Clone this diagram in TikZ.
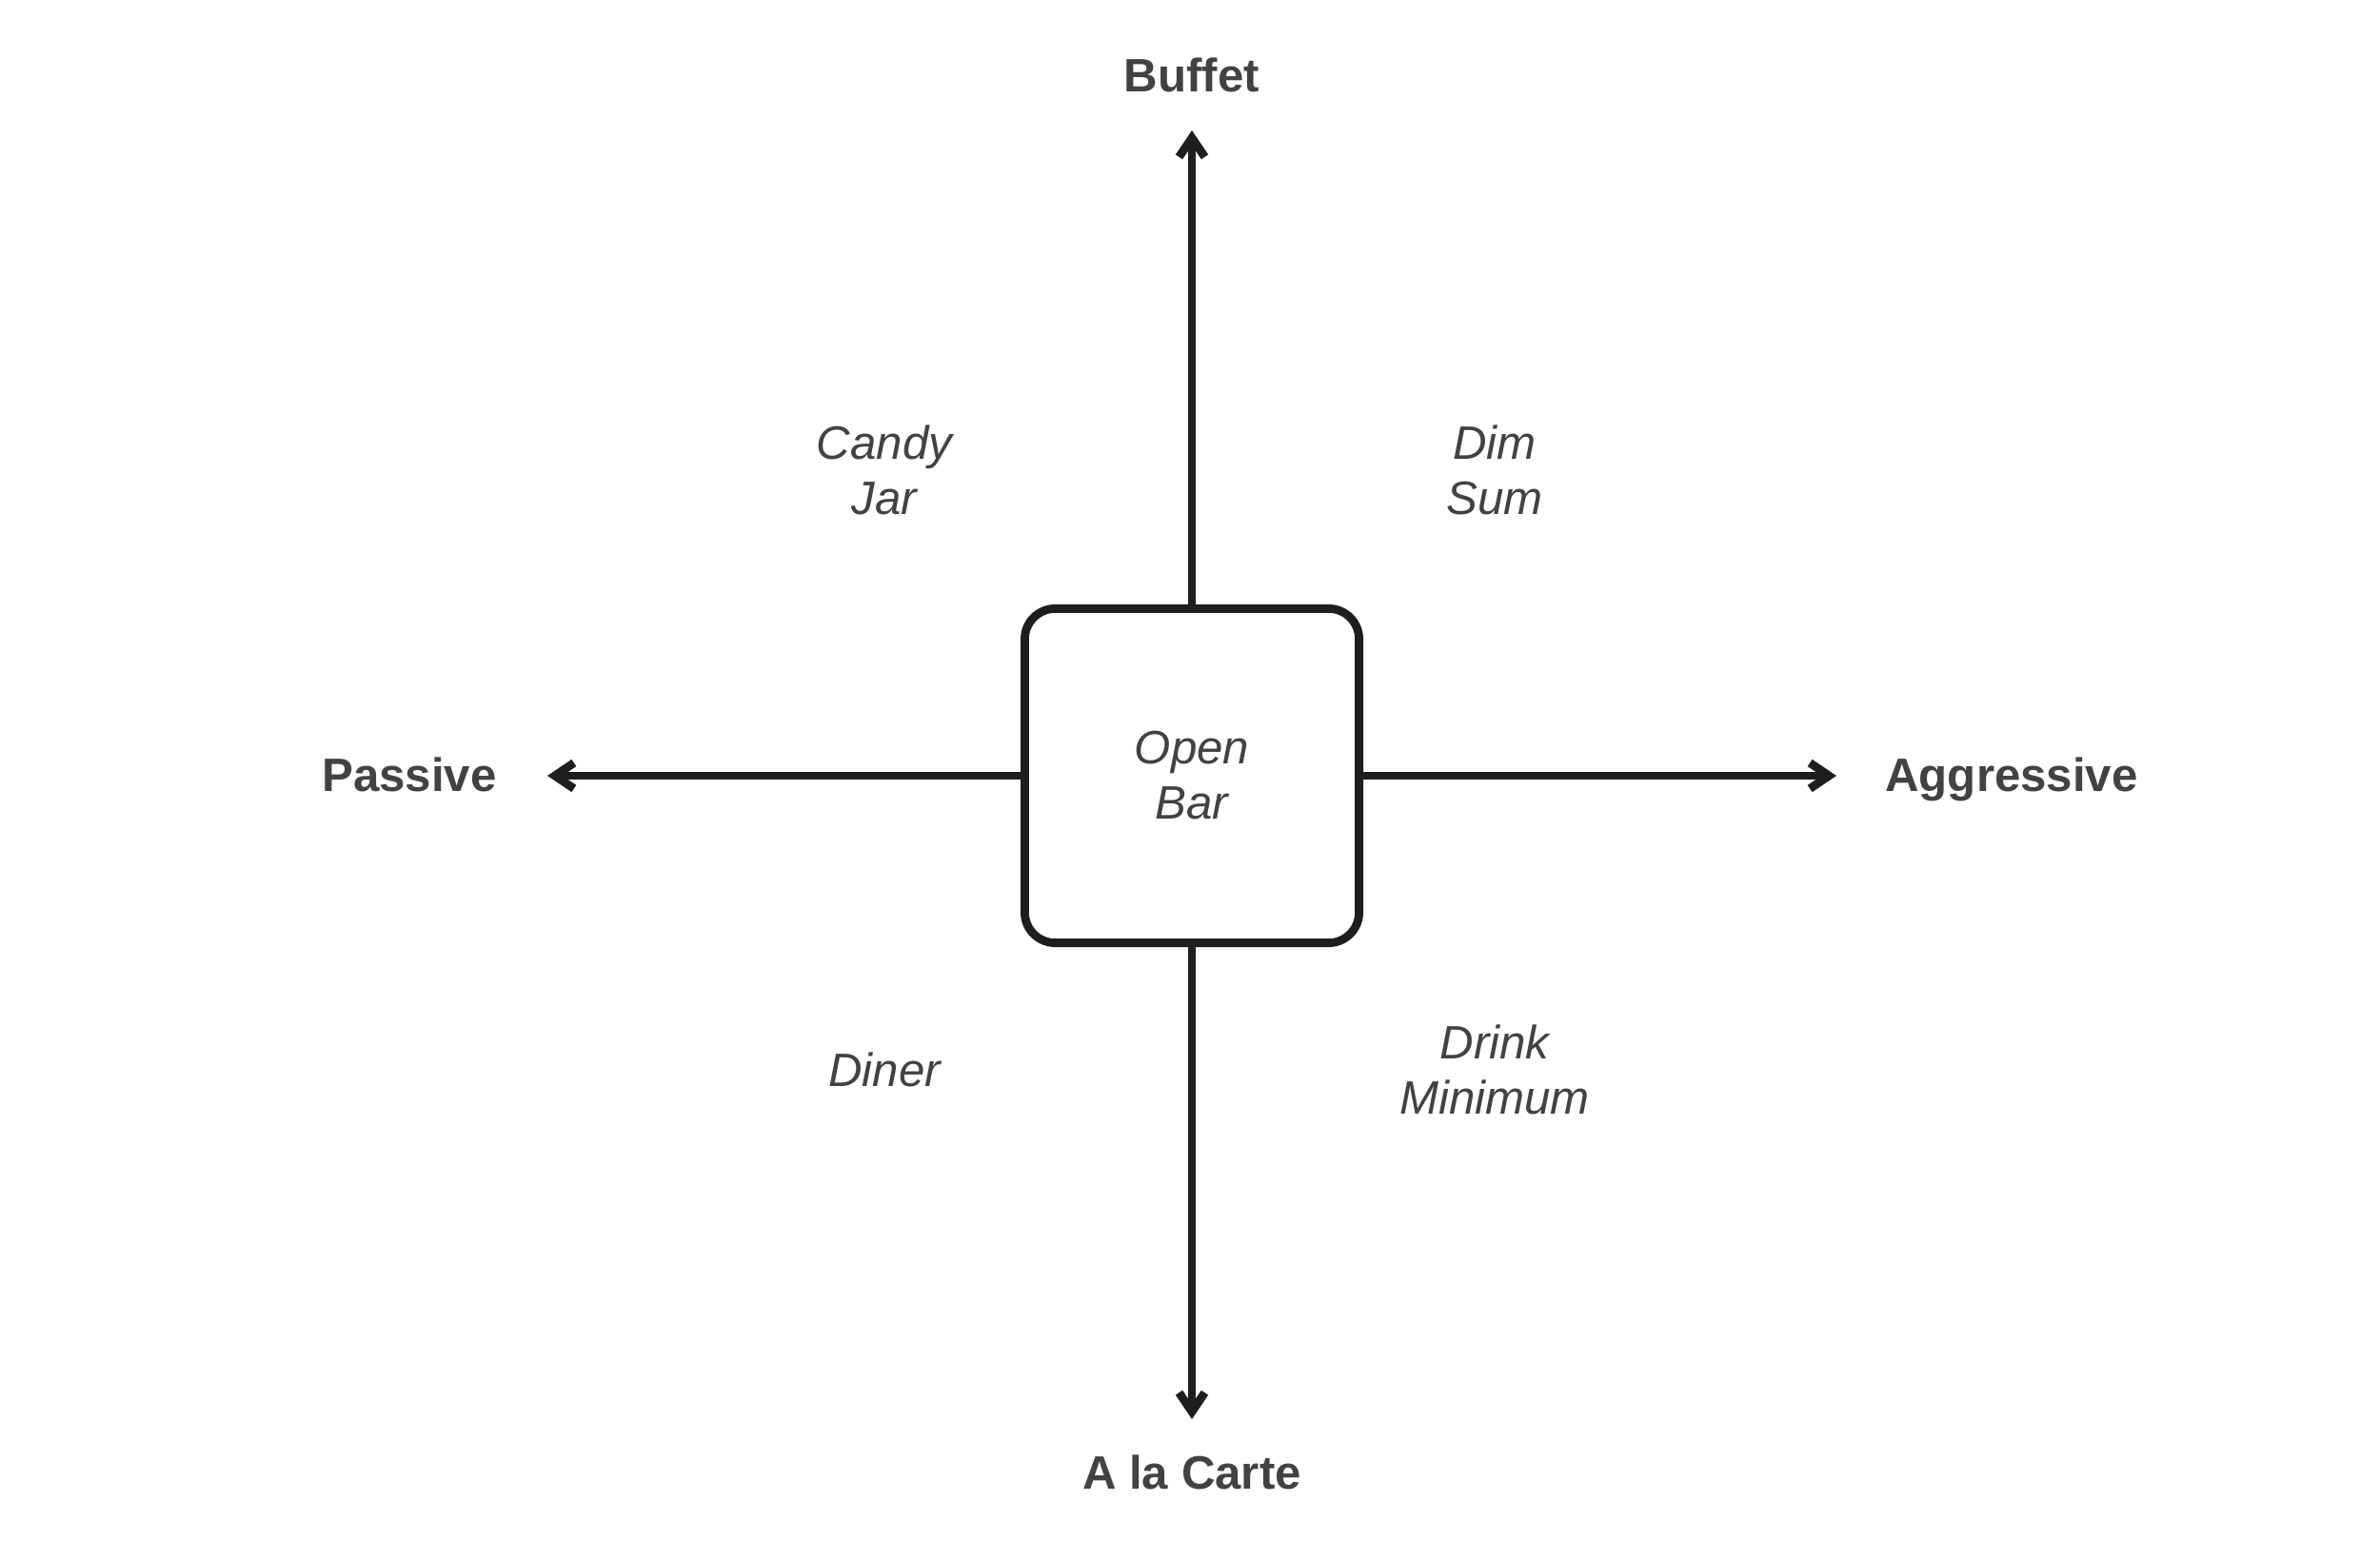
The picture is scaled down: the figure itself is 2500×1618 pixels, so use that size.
\documentclass[tikz,border=0pt]{standalone}
\usepackage{fontspec}
\setmainfont{Liberation Sans}
\usetikzlibrary{arrows.meta}
\definecolor{ink}{HTML}{1E1E1E}
\definecolor{txt}{HTML}{424242}

\begin{document}
\begin{tikzpicture}[x=0.01cm, y=-0.01cm, >={Straight Barb[length=2mm,width=2.7mm]},
  every node/.style={font=\fontsize{14}{16.5}\selectfont, text=txt, align=center},
  axis/.style={font=\fontsize{14}{16.5}\selectfont\bfseries, anchor=base},
  quad/.style={font=\fontsize{14}{16.5}\selectfont\itshape}]
\useasboundingbox (0,0) rectangle (2500,1618);
\node[draw=ink,line width=2.5pt,rounded corners=3.2mm,minimum width=3.51cm,minimum height=3.51cm,quad] (bar) at (1252,815) {Open\\Bar};
\node[axis] (buf) at (1252,97) {Buffet};
\node[axis] (alc) at (1252,1564) {A la Carte};
\node[axis] (pas) at (430,831) {Passive};
\node[axis] (agg) at (2113,831) {Aggressive};
\coordinate (tu) at (1252,137);
\coordinate (td) at (1252,1491);
\coordinate (tl) at (575,815);
\coordinate (tr) at (1929,815);
\draw[->,ink,line width=2.5pt,line join=round] (bar.north) -- (tu);
\draw[->,ink,line width=2.5pt,line join=round] (bar.south) -- (td);
\draw[->,ink,line width=2.5pt,line join=round] (bar.west) -- (tl);
\draw[->,ink,line width=2.5pt,line join=round] (bar.east) -- (tr);
\node[quad] (cj) at (929,494) {Candy\\Jar};
\node[quad] (ds) at (1570,494) {Dim\\Sum};
\node[quad] (dn) at (929,1124) {Diner};
\node[quad] (dm) at (1570,1124) {Drink\\Minimum};
\end{tikzpicture}
\end{document}
